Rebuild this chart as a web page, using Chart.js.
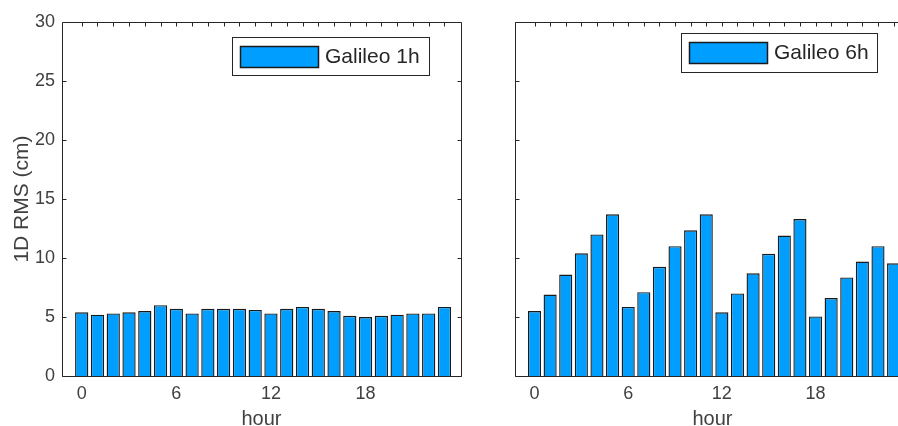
<!DOCTYPE html>
<html>
<head>
<meta charset="utf-8">
<script src="https://cdn.jsdelivr.net/npm/chart.js@4.4.0/dist/chart.umd.min.js"></script>
<style>
  html, body { margin: 0; padding: 0; background: #fff; overflow: hidden; }
  body { width: 898px; height: 426px; position: relative; }
  #leftBox { position: absolute; left: 0; top: 0; width: 470px; height: 426px; }
  #rightBox { position: absolute; left: 470px; top: 0; width: 450px; height: 426px; }
</style>
</head>
<body>
<div id="leftBox"><canvas id="chart1h" width="470" height="426"></canvas></div>
<div id="rightBox"><canvas id="chart6h" width="450" height="426"></canvas></div>
<script>
// data
const hours = [0, 1, 2, 3, 4, 5, 6, 7, 8, 9, 10, 11, 12, 13, 14, 15, 16, 17, 18, 19, 20, 21, 22, 23];
const hourTicks = [0, 6, 12, 18];
const rmsTicks = [0, 5, 10, 15, 20, 25, 30];

const galileo1h = [5.4, 5.2, 5.3, 5.4, 5.5, 6.0, 5.7, 5.3, 5.7, 5.7, 5.7, 5.6, 5.3, 5.7, 5.85, 5.7, 5.5, 5.1, 5.0, 5.1, 5.2, 5.3, 5.3, 5.85];
const galileo6h = [5.5, 6.9, 8.6, 10.4, 12.0, 13.7, 5.85, 7.1, 9.25, 11.0, 12.35, 13.7, 5.4, 7.0, 8.7, 10.35, 11.9, 13.3, 5.05, 6.6, 8.35, 9.7, 11.0, 9.55];

const barColor = "#009FFF";
const inkColor = "#262626";
const labelColor = "#404040";

Chart.defaults.font.family = "'Liberation Sans', Arial, sans-serif";
Chart.defaults.font.size = 18;
Chart.defaults.color = labelColor;

// box around the axes with inward ticks, like the original figure
const framePlugin = {
    id: "frame",
    afterDatasetsDraw(chart) {
        const ctx = chart.ctx;
        const a = chart.chartArea;
        const xs = chart.scales.x;
        const ys = chart.scales.y;
        const L = Math.round(a.left) + 0.5, R = Math.round(a.right) + 0.5;
        const T = Math.round(a.top) + 0.5, B = Math.round(a.bottom) + 0.5;
        ctx.save();
        ctx.strokeStyle = inkColor;
        ctx.lineWidth = 1;
        ctx.beginPath();
        ctx.rect(L, T, R - L, B - T);
        // top ticks every hour
        hours.forEach(h => {
            const px = Math.round(xs.getPixelForValue(h)) + 0.5;
            ctx.moveTo(px, T);
            ctx.lineTo(px, T + 4);
        });
        // y ticks both sides
        rmsTicks.forEach(v => {
            const py = Math.round(ys.getPixelForValue(v)) + 0.5;
            ctx.moveTo(L, py);
            ctx.lineTo(L + 4, py);
            ctx.moveTo(R, py);
            ctx.lineTo(R - 4, py);
        });
        ctx.stroke();
        ctx.restore();
    }
};

// legend box drawn inside the axes
const boxLegendPlugin = {
    id: "boxLegend",
    afterDraw(chart, args, opts) {
        const ctx = chart.ctx;
        const a = chart.chartArea;
        const ds = chart.data.datasets[0];
        const x = a.right - opts.right - opts.width;
        const y = a.top + opts.top;
        ctx.save();
        ctx.fillStyle = "#fff";
        ctx.fillRect(x, y, opts.width, opts.height);
        ctx.strokeStyle = inkColor;
        ctx.lineWidth = 1;
        ctx.strokeRect(Math.round(x) + 0.5, Math.round(y) + 0.5, opts.width, opts.height);
        ctx.fillStyle = ds.backgroundColor;
        ctx.fillRect(x + 8, y + 9, 78, 21);
        ctx.lineWidth = 1.5;
        ctx.strokeStyle = "#1a1a1a";
        ctx.strokeRect(x + 8.5, y + 9.5, 78, 21);
        ctx.fillStyle = inkColor;
        ctx.font = "21px 'Liberation Sans', Arial, sans-serif";
        ctx.textBaseline = "middle";
        ctx.fillText(ds.label, x + 93, y + opts.height / 2 + 1);
        ctx.restore();
    }
};

function makeChart(canvasId, label, values, opts) {
    return new Chart(document.getElementById(canvasId), {
        type: "bar",
        data: {
            datasets: [{
                label: label,
                data: hours.map((h, i) => ({ x: h, y: values[i] })),
                backgroundColor: barColor,
                borderColor: "#1a1a1a",
                borderWidth: 1.4,
                categoryPercentage: 1,
                barPercentage: 0.84
            }]
        },
        options: {
            responsive: false,
            animation: false,
            layout: { padding: { top: 22, right: opts.padRight, left: 0, bottom: 0 } },
            plugins: {
                legend: { display: false },
                tooltip: { enabled: false },
                boxLegend: opts.legend
            },
            scales: {
                x: {
                    type: "linear",
                    min: -1.25,
                    max: 24.05,
                    offset: false,
                    grid: { display: false, drawTicks: false },
                    border: { display: false },
                    afterBuildTicks: scale => { scale.ticks = hourTicks.map(v => ({ value: v })); },
                    ticks: { padding: 7, color: labelColor, font: { size: 18 } },
                    title: { display: true, text: "hour", color: labelColor, font: { size: 20 }, padding: { top: 1, bottom: -5 } },
                    afterFit: scale => { scale.height = 50; }
                },
                y: {
                    min: 0,
                    max: 30,
                    grid: { display: false, drawTicks: false },
                    border: { display: false },
                    afterBuildTicks: scale => { scale.ticks = rmsTicks.map(v => ({ value: v })); },
                    ticks: { display: opts.showY, padding: 7, color: labelColor, font: { size: 18 } },
                    title: { display: opts.showY, text: "1D RMS (cm)", color: labelColor, font: { size: 21 }, padding: { top: 10, bottom: 0 } },
                    afterFit: scale => { scale.width = opts.yWidth; }
                }
            }
        },
        plugins: [framePlugin, boxLegendPlugin]
    });
}

makeChart("chart1h", "Galileo 1h", galileo1h, {
    showY: true, yWidth: 62, padRight: 9,
    legend: { width: 197, height: 38, right: 32, top: 15 }
});

makeChart("chart6h", "Galileo 6h", galileo6h, {
    showY: false, yWidth: 45, padRight: 10,
    legend: { width: 196, height: 39, right: 33, top: 11 }
});
</script>
</body>
</html>
